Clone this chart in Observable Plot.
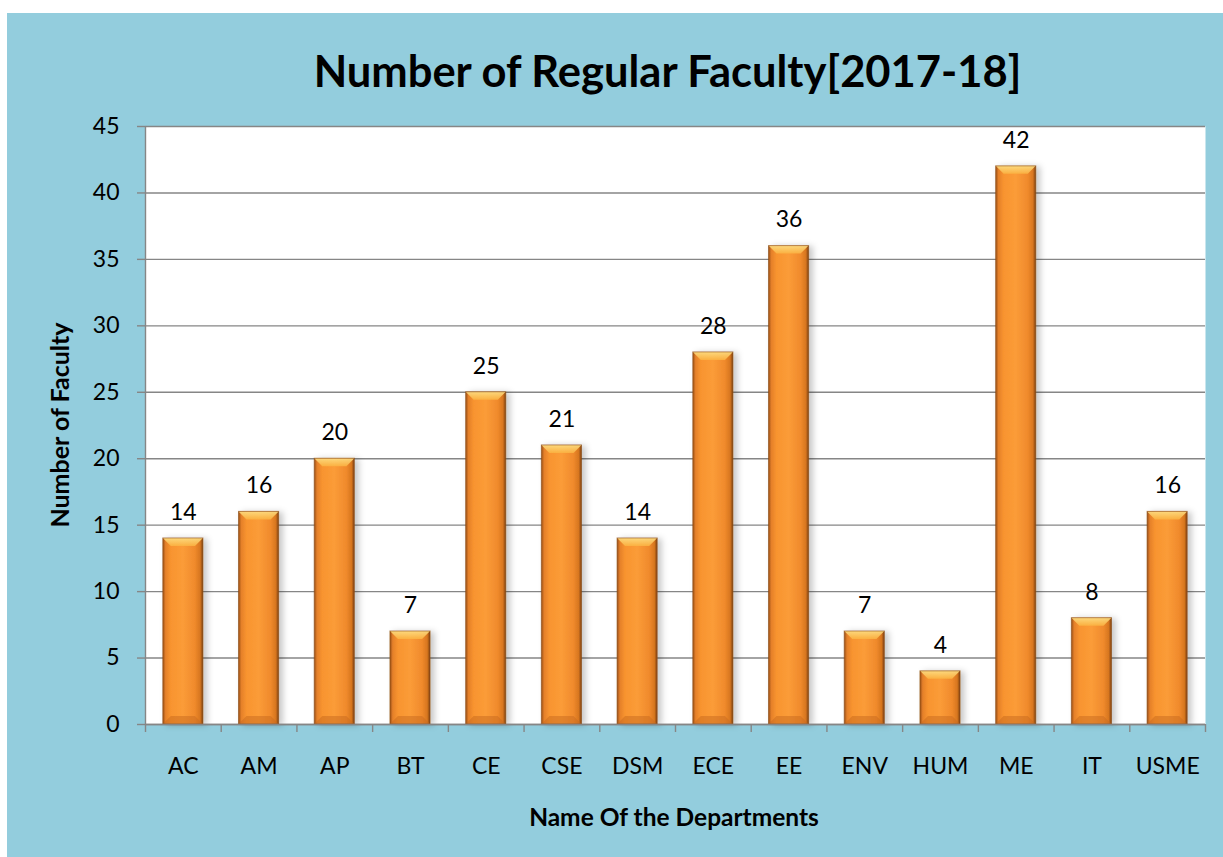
<!DOCTYPE html>
<html>
<head>
<meta charset="utf-8">
<script src="https://cdn.jsdelivr.net/npm/d3@7"></script>
<script src="https://cdn.jsdelivr.net/npm/@observablehq/plot@0.6"></script>
<style>
  html, body { margin: 0; padding: 0; background: #ffffff; }
  #chart { position: absolute; left: 7px; top: 13px; width: 1216px; height: 844px; background: #93CDDD; overflow: hidden; }
  #chart svg { position: absolute; left: 0; top: 0; }
</style>
</head>
<body>
<div id="chart"></div>
<script>
// ---- data ----
const departments = ["AC", "AM", "AP", "BT", "CE", "CSE", "DSM", "ECE", "EE", "ENV", "HUM", "ME", "IT", "USME"];
const faculty = [14, 16, 20, 7, 25, 21, 14, 28, 36, 7, 4, 42, 8, 16];
const yTicks = [0, 5, 10, 15, 20, 25, 30, 35, 40, 45];
const titleText = "Number of Regular Faculty[2017-18]";
const xLabel = "Name Of the Departments";
const yLabel = "Number of Faculty";

const data = departments.map((d, i) => ({dept: d, n: faculty[i]}));

// ---- layout ----
const W = 1216, H = 844;
const mL = 138, mR = 18, mT = 113, mB = 133;
const step = (W - mL - mR) / departments.length;
const grid = "#868686";
const font = "Lato, 'Open Sans', sans-serif";

const chart = Plot.plot({
  width: W, height: H,
  marginLeft: mL, marginRight: mR, marginTop: mT, marginBottom: mB,
  style: {background: "transparent", fontFamily: font, color: "black", overflow: "visible"},
  x: {domain: departments, paddingInner: 0.47, paddingOuter: 0.235, round: false, label: null},
  y: {domain: [0, 45], ticks: yTicks, label: null},
  marks: [
    Plot.frame({fill: "white", stroke: null}),
    Plot.gridY(yTicks, {stroke: grid, strokeOpacity: 1, strokeWidth: 1.4}),
    Plot.axisY(yTicks, {tickSize: 8, tickPadding: 18, fontSize: 23, stroke: grid, strokeWidth: 1.4, label: null}),
    Plot.ruleX([departments[0]], {dx: -step / 2, y1: 0, y2: 45, stroke: grid, strokeWidth: 1.4}),
    Plot.axisX(departments, {tickSize: 8, dx: -step / 2, tickFormat: () => "", stroke: grid, strokeWidth: 1.4, label: null}),
    Plot.axisX([departments[departments.length - 1]], {tickSize: 8, dx: step / 2, tickFormat: () => "", stroke: grid, strokeWidth: 1.4, label: null}),
    Plot.axisX(departments, {tickSize: 0, tickPadding: 33, fontSize: 23, label: null}),
    Plot.barY(data, {x: "dept", y: "n", fill: "url(#barGrad)", className: "bars"}),
    Plot.ruleY([0], {stroke: grid, strokeWidth: 1.4}),
    Plot.text(data, {x: "dept", y: "n", text: d => String(d.n), dy: -26, fontSize: 23, fill: "black"})
  ]
});

document.getElementById("chart").appendChild(chart);

// gradients, shadow and bevels for the 3D-look bars
const svg = d3.select(chart);
const defs = svg.insert("defs", ":first-child");
const g1 = defs.append("linearGradient").attr("id", "barGrad").attr("x1", 0).attr("x2", 1).attr("y1", 0).attr("y2", 0);
[["0%", "#9a5016"], ["7%", "#e5802a"], ["20%", "#f8942f"], ["50%", "#fb9c38"], ["80%", "#f08a2c"], ["93%", "#d7761f"], ["100%", "#7c400f"]]
  .forEach(([o, c]) => g1.append("stop").attr("offset", o).attr("stop-color", c));
const g2 = defs.append("linearGradient").attr("id", "bevelTop").attr("x1", 0).attr("x2", 0).attr("y1", 0).attr("y2", 1);
[["0%", "#fde48a"], ["100%", "#fbb443"]].forEach(([o, c]) => g2.append("stop").attr("offset", o).attr("stop-color", c));
const f = defs.append("filter").attr("id", "shadow").attr("x", "-20%").attr("y", "-5%").attr("width", "150%").attr("height", "115%");
f.append("feDropShadow").attr("dx", 4).attr("dy", 1).attr("stdDeviation", 3).attr("flood-color", "#000").attr("flood-opacity", 0.22);

const barG = svg.select("g.bars");
barG.attr("filter", "url(#shadow)");
barG.selectAll("rect").each(function () {
  const r = d3.select(this);
  const x = +r.attr("x"), y = +r.attr("y"), w = +r.attr("width"), h = +r.attr("height");
  const b = Math.min(8, h / 2);
  const p = this.parentNode;
  d3.select(p).append("polygon")
    .attr("points", `${x},${y} ${x + w},${y} ${x + w - b},${y + b} ${x + b},${y + b}`)
    .attr("fill", "url(#bevelTop)").attr("opacity", 0.85);
  d3.select(p).append("polygon")
    .attr("points", `${x},${y + h} ${x + w},${y + h} ${x + w - b},${y + h - b} ${x + b},${y + h - b}`)
    .attr("fill", "#c8691f").attr("opacity", 0.5);
  d3.select(p).append("rect")
    .attr("x", x).attr("y", y).attr("width", w).attr("height", h)
    .attr("fill", "none").attr("stroke", "#8a4a14").attr("stroke-opacity", 0.6).attr("stroke-width", 1);
});

// title and axis labels
const ov = svg.append("g").attr("font-family", font).attr("font-weight", "bold").attr("fill", "black");
ov.append("text").attr("x", 660.5).attr("y", 74).attr("text-anchor", "middle").attr("font-size", 43.5).text(titleText);
ov.append("text").attr("x", 667).attr("y", 813).attr("text-anchor", "middle").attr("font-size", 24.5).text(xLabel);
ov.append("text").attr("transform", "translate(62,412) rotate(-90)").attr("text-anchor", "middle").attr("font-size", 25).text(yLabel);
</script>
</body>
</html>
